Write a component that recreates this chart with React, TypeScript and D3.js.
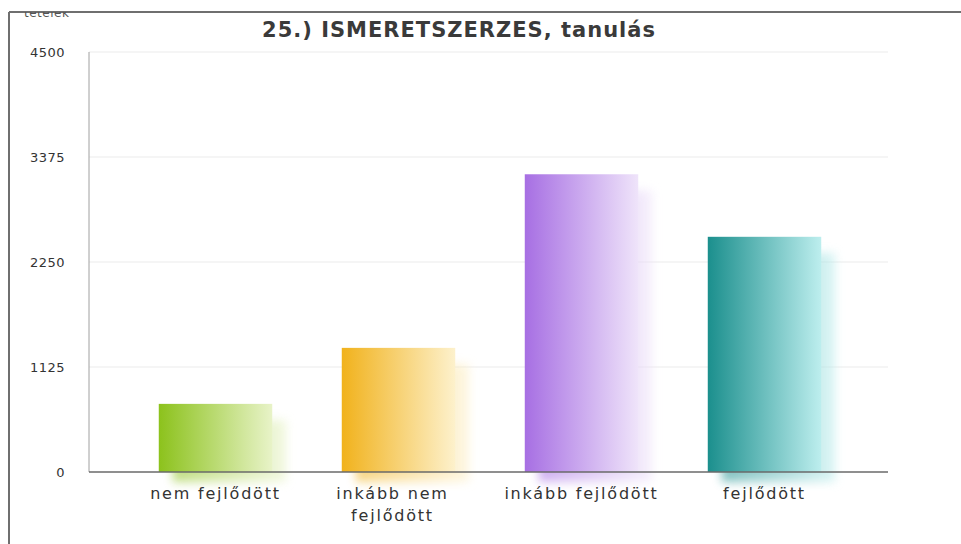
import * as d3 from "d3";
import React from "react";

const categories = ["nem fejlődött", "inkább nem fejlődött", "inkább fejlődött", "fejlődött"];
const labelLines = [["nem fejlődött"], ["inkább nem", "fejlődött"], ["inkább fejlődött"], ["fejlődött"]];
const values = [730, 1330, 3190, 2520];
const tickValues = [0, 1125, 2250, 3375, 4500];
const barColors = [
  ["#8cc21c", "#e8f3c8"],
  ["#f1b21c", "#fdf1cc"],
  ["#a76fe3", "#efe4fa"],
  ["#1b8f8d", "#bdeeee"],
];

const W = 961;
const H = 544;

export default function App() {
  const x = d3
    .scaleBand()
    .domain(categories)
    .range([124, 856])
    .paddingInner(0.38)
    .paddingOuter(0.19);
  const y = d3.scaleLinear().domain([0, 4500]).range([472, 52]);
  const left = 89;
  const right = 888;

  return (
    <svg
      width={W}
      height={H}
      style={{ position: "absolute", left: 0, top: 0, background: "#fff" }}
      fontFamily="'DejaVu Sans', Verdana, sans-serif"
    >
      <defs>
        {barColors.map((c, i) => (
          <linearGradient key={i} id={`g${i}`} x1="0" x2="1" y1="0" y2="0">
            <stop offset="0" stopColor={c[0]} />
            <stop offset="1" stopColor={c[1]} />
          </linearGradient>
        ))}
        <filter id="blur" x="-30%" y="-30%" width="160%" height="160%">
          <feGaussianBlur stdDeviation="5" />
        </filter>
        <clipPath id="topclip">
          <rect x={0} y={12} width={W} height={H} />
        </clipPath>
      </defs>

      {/* frame */}
      <line x1={9} x2={W} y1={12} y2={12} stroke="#6f6f6f" strokeWidth={2} />
      <line x1={9} x2={9} y1={12} y2={H} stroke="#6f6f6f" strokeWidth={2} />
      <text x={24} y={17} fontSize={12} fill="#555" letterSpacing={0.5} clipPath="url(#topclip)">
        tételek
      </text>

      {/* title */}
      <text
        x={459}
        y={37}
        textAnchor="middle"
        fontSize={21}
        fontWeight="bold"
        letterSpacing={1}
        fill="#3a3a3a"
      >
        25.) ISMERETSZERZES, tanulás
      </text>

      {/* grid */}
      {tickValues.map((t) => (
        <g key={t}>
          {t > 0 && <line x1={left} x2={right} y1={y(t)} y2={y(t)} stroke="#ebebeb" strokeWidth={1} />}
          <text x={65} y={y(t) + 5} textAnchor="end" fontSize={13} letterSpacing={0.5} fill="#333">
            {t}
          </text>
        </g>
      ))}
      <line x1={left} x2={left} y1={52} y2={472} stroke="#a0a0a0" strokeWidth={1} />

      {/* bars */}
      {categories.map((c, i) => {
        const bx = x(c)!;
        const bw = x.bandwidth();
        const top = y(values[i]);
        return (
          <g key={c}>
            <rect
              x={bx + 14}
              y={top + 16}
              width={bw}
              height={472 - top - 6}
              fill={`url(#g${i})`}
              opacity={0.55}
              filter="url(#blur)"
            />
            <rect x={bx} y={top} width={bw} height={472 - top} fill={`url(#g${i})`} />
          </g>
        );
      })}

      <line x1={left} x2={right} y1={472} y2={472} stroke="#6a6a6a" strokeWidth={1.5} />

      {/* category labels */}
      {categories.map((c, i) => (
        <text key={c} textAnchor="middle" fontSize={16} letterSpacing={1.8} fill="#333">
          {labelLines[i].map((l, j) => (
            <tspan key={j} x={x(c)! + x.bandwidth() / 2 - (i === 1 ? 6 : 0)} y={499 + j * 22}>
              {l}
            </tspan>
          ))}
        </text>
      ))}
    </svg>
  );
}
